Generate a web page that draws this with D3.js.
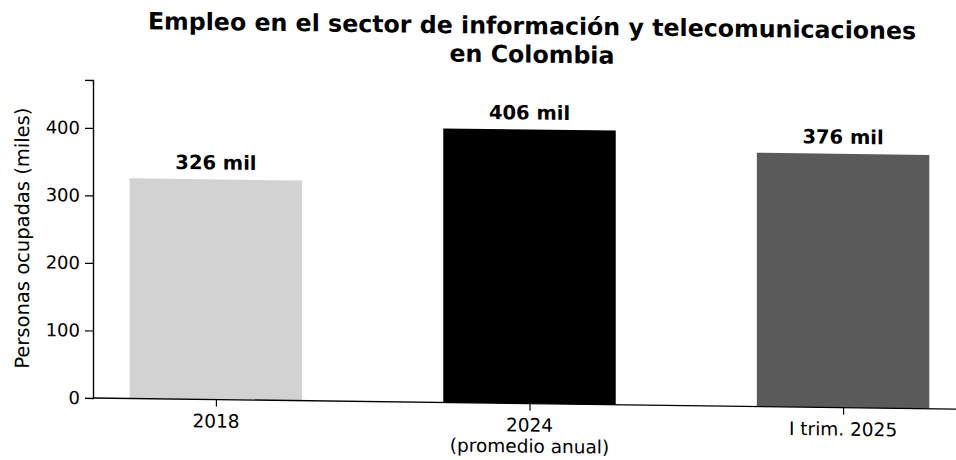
<!DOCTYPE html>
<html>
<head>
<meta charset="utf-8">
<script src="https://cdn.jsdelivr.net/npm/d3@7"></script>
<style>
  body { margin: 0; background: #fff; }
  text { font-family: "DejaVu Sans", sans-serif; fill: #000; }
</style>
</head>
<body>
<div id="chart"></div>
<script>
// data
var categories = ["2018", "2024", "I trim. 2025"];
var subLabels = ["", "(promedio anual)", ""];
var values = [326, 406, 376];
var valueLabels = ["326 mil", "406 mil", "376 mil"];
var barColors = ["#d2d2d2", "#000000", "#5a5a5a"];
var yTicks = [0, 100, 200, 300, 400];

var W = 956, H = 460;
var plotLeft = 93, plotRight = 971, plotTop = 80, plotBottom = 398;

// the reference is a slightly tilted scan: horizontals drop ~0.74 deg to the right
var tilt = 0.737;
var tiltK = Math.tan(tilt * Math.PI / 180);

var svg = d3.select("#chart")
  .append("svg")
  .attr("width", W)
  .attr("height", H);

var g = svg.append("g")
  .attr("transform", "translate(0," + (-plotLeft * tiltK) + ") skewY(" + tilt + ")");

// title
var title = g.append("text")
  .attr("x", 532)
  .attr("y", 28.5)
  .attr("text-anchor", "middle")
  .attr("font-size", "23.7px")
  .attr("font-weight", "bold");
title.append("tspan").attr("x", 532).text("Empleo en el sector de información y telecomunicaciones");
title.append("tspan").attr("x", 532).attr("dy", 28.5).text("en Colombia");

// scales
var x = d3.scalePoint()
  .domain(categories)
  .range([plotLeft - 2.5, plotRight - 2.5])
  .padding(0.4);

var y = d3.scaleLinear()
  .domain([0, 471])
  .range([plotBottom, plotTop]);

var barW = x.step() * 0.55;

// bars
g.selectAll("rect.bar")
  .data(values)
  .enter()
  .append("rect")
  .attr("class", "bar")
  .attr("x", function (d, i) { return x(categories[i]) - barW / 2; })
  .attr("y", function (d) { return y(d); })
  .attr("width", barW)
  .attr("height", function (d) { return y(0) - y(d); })
  .attr("fill", function (d, i) { return barColors[i]; });

// value labels
g.selectAll("text.val")
  .data(values)
  .enter()
  .append("text")
  .attr("class", "val")
  .attr("x", function (d, i) { return x(categories[i]); })
  .attr("y", function (d) { return y(d) - 10; })
  .attr("text-anchor", "middle")
  .attr("font-size", "19.5px")
  .attr("font-weight", "bold")
  .text(function (d, i) { return valueLabels[i]; });

// Y axis
var yAxis = g.append("g")
  .attr("transform", "translate(" + plotLeft + ",0)")
  .call(d3.axisLeft(y).tickValues(yTicks).tickSize(8).tickPadding(5));
yAxis.select(".domain").attr("stroke-width", 1.4);
yAxis.selectAll(".tick line").attr("stroke-width", 1.2);
yAxis.selectAll("text").attr("font-size", "18px").attr("font-family", "DejaVu Sans");

// X axis
var xAxis = g.append("g")
  .attr("transform", "translate(0," + plotBottom + ")")
  .call(d3.axisBottom(x).tickSize(7).tickPadding(5).tickFormat(""));
xAxis.select(".domain").attr("d", "M" + plotLeft + ",0H" + plotRight).attr("stroke-width", 1.4);
xAxis.selectAll(".tick line").attr("stroke-width", 1.2);

// x tick labels (two lines where needed)
g.selectAll("text.xlab")
  .data(categories)
  .enter()
  .append("text")
  .attr("class", "xlab")
  .attr("x", function (d) { return x(d); })
  .attr("y", 426)
  .attr("text-anchor", "middle")
  .attr("font-size", "18.5px")
  .text(function (d) { return d; });

g.selectAll("text.xsub")
  .data(subLabels)
  .enter()
  .append("text")
  .attr("class", "xsub")
  .attr("x", function (d, i) { return x(categories[i]); })
  .attr("y", 447)
  .attr("text-anchor", "middle")
  .attr("font-size", "18.5px")
  .text(function (d) { return d; });

// Y label
g.append("text")
  .attr("transform", "translate(29," + ((plotTop + plotBottom) / 2) + ") rotate(-90)")
  .attr("text-anchor", "middle")
  .attr("font-size", "19.5px")
  .text("Personas ocupadas (miles)");
</script>
</body>
</html>
